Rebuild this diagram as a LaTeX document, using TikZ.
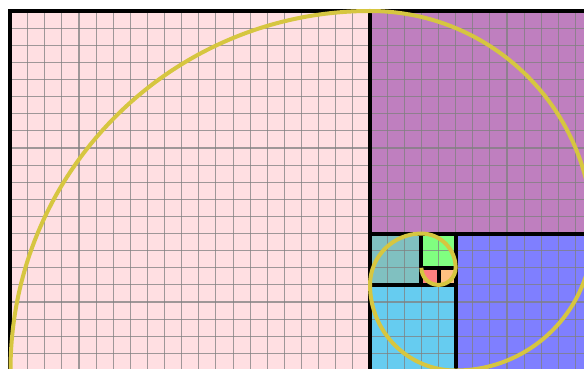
\documentclass[tikz,border=0pt]{standalone}
\definecolor{cpink}{RGB}{255,223,226}
\definecolor{cpurple}{RGB}{191,127,191}
\definecolor{cblue}{RGB}{127,127,255}
\definecolor{clblue}{RGB}{102,204,240}
\definecolor{cteal}{RGB}{128,192,192}
\definecolor{cgreen}{RGB}{128,255,128}
\definecolor{cred}{RGB}{255,128,128}
\definecolor{corange}{RGB}{255,192,128}
\definecolor{cspiral}{RGB}{214,198,64}
\tikzset{
  gridline/.style={draw=gray,opacity=0.75,line width=1.1pt},
  sqborder/.style={draw=black,line width=4pt},
  spiral/.style={draw=cspiral,line width=4pt}
}
\begin{document}
\begin{tikzpicture}[x=17.12pt,y=17.12pt]
\useasboundingbox (-0.6133,0.12) rectangle (33.499,21.6425);
\clip (-0.6133,0.12) rectangle (33.499,21.6425);
\fill[white] (-0.6133,0.12) rectangle (33.499,21.6425);
% squares
\fill[cpink] (0,0) rectangle (21,21);
\fill[cpurple] (21,8) rectangle (34,21);
\fill[cblue] (26,0) rectangle (34,8);
\fill[clblue] (21,0) rectangle (26,5);
\fill[cteal] (21,5) rectangle (24,8);
\fill[cgreen] (24,6) rectangle (26,8);
\fill[cred] (24,5) rectangle (25,6);
\fill[corange] (25,5) rectangle (26,6);
% grid
\foreach \i in {1,...,33} \draw[gridline] (\i,0) -- (\i,21);
\foreach \j in {1,...,20} \draw[gridline] (0,\j) -- (34,\j);
% borders
\draw[sqborder] (0,0) rectangle (21,21);
\draw[sqborder] (21,8) rectangle (34,21);
\draw[sqborder] (26,0) rectangle (34,8);
\draw[sqborder] (21,0) rectangle (26,5);
\draw[sqborder] (21,5) rectangle (24,8);
\draw[sqborder] (24,6) rectangle (26,8);
\draw[sqborder] (24,5) rectangle (25,6);
\draw[sqborder] (25,5) rectangle (26,6);
% spiral
\draw[spiral] (0,0) arc (180:90:21) arc (90:0:13) arc (0:-90:8) arc (-90:-180:5)
  arc (180:90:3) arc (90:0:2) arc (0:-90:1) arc (-90:-180:1);
\end{tikzpicture}
\end{document}
